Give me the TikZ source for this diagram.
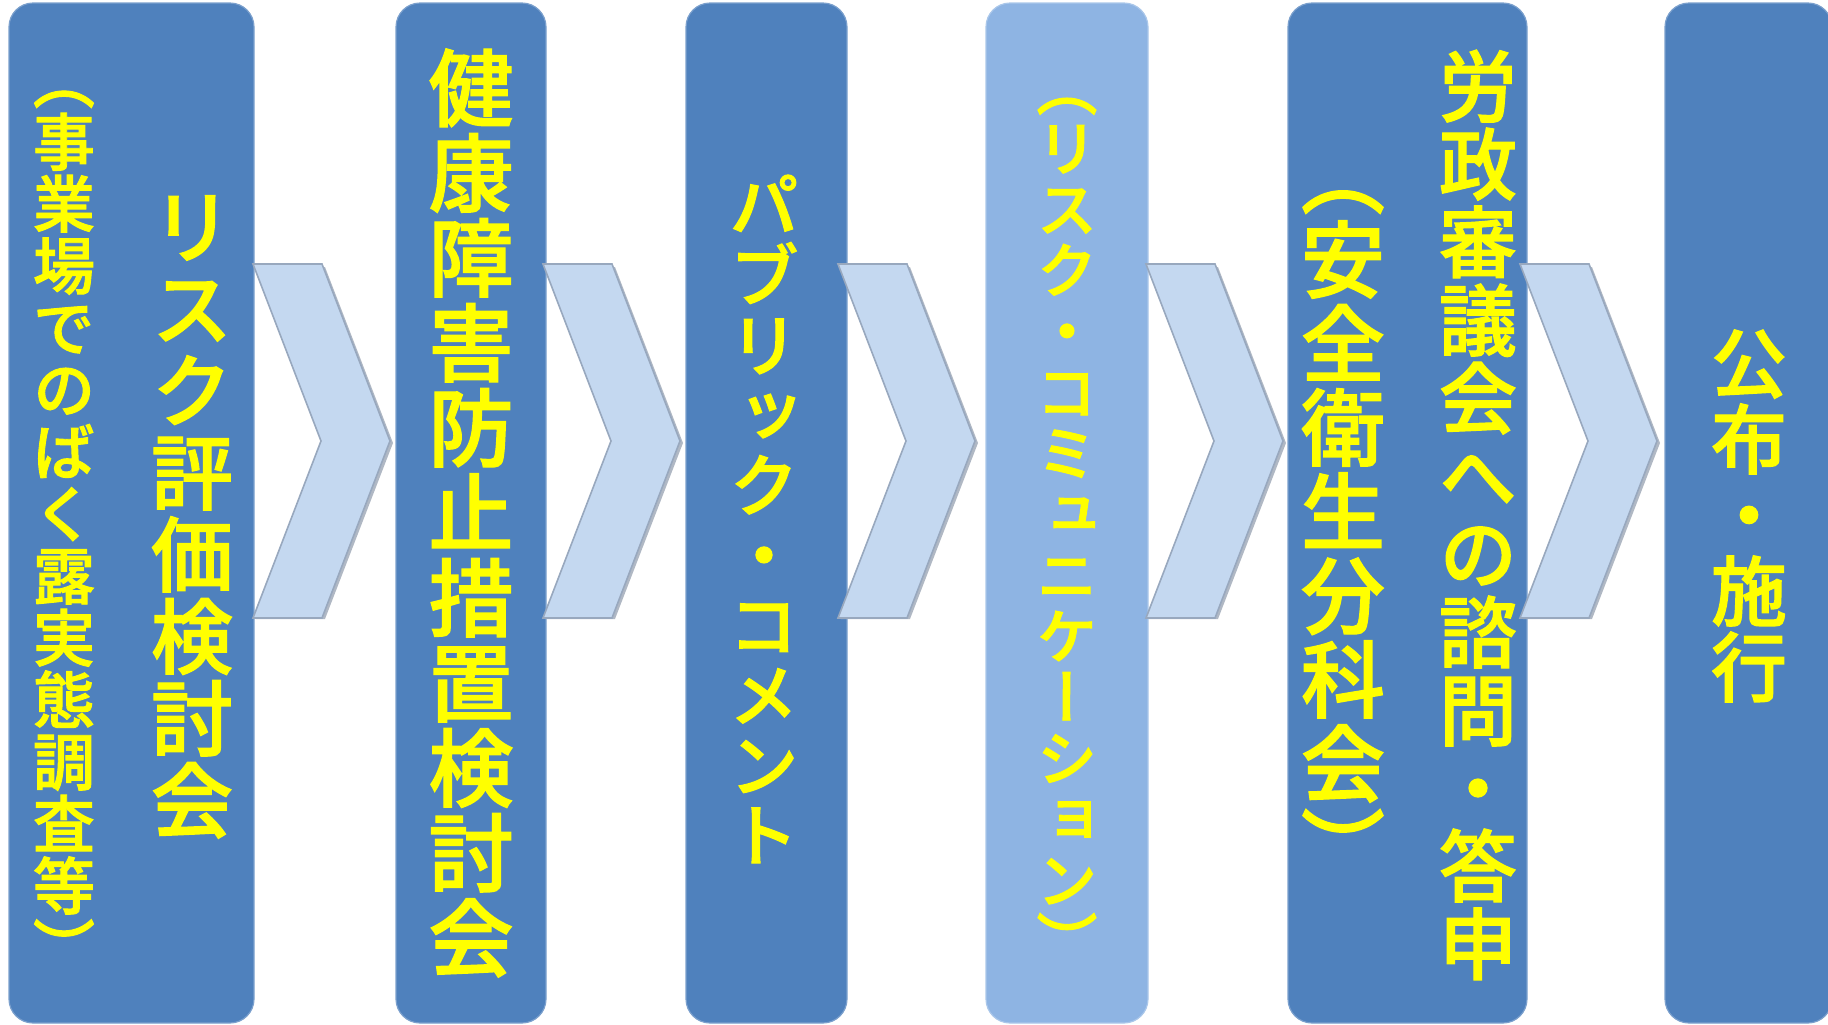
\documentclass[tikz,border=0pt]{standalone}
\usepackage{fontspec}
\newfontfamily\jpfont[RawFeature=+vert, FakeBold=1.5]{Noto Sans CJK JP Medium}
\usetikzlibrary{positioning}
\definecolor{colblue}{HTML}{4F81BD}
\definecolor{collight}{HTML}{8EB4E3}
\definecolor{chevfill}{HTML}{C4D8F0}
\definecolor{chevedge}{HTML}{98A8BE}
\definecolor{chevshadow}{HTML}{B0B8C4}
\definecolor{txtyellow}{HTML}{FFFF00}
% vertical text: one character per line
\makeatletter
\newcommand\tate[1]{\vbox{\baselineskip=1em\lineskiplimit=-100pt\lineskip=0pt%
  \@tfor\vch:=#1\do{\hbox to 1em{\hss\vch\hss}}}}
\makeatother
\tikzset{
    colblock/.style={rectangle, rounded corners=12pt, minimum height=510pt, inner sep=0pt, fill=colblue, draw=colblue!75!white, line width=0.6pt},
    tatetext/.style={text=txtyellow, inner sep=0pt, font=\jpfont\fontsize{#1}{#1}\selectfont},
    chevron/.style={fill=chevfill, draw=chevedge, line width=0.8pt, line join=miter},
    chevshade/.style={fill=chevshadow, draw=none}
}
\begin{document}
\begin{tikzpicture}[x=0.5pt, y=-0.5pt]
    \useasboundingbox (0,0) rectangle (1828,1024);
    % steps
    \node[colblock, minimum width=122.5pt] (risk) at (131.5,513) {};
    \node[colblock, minimum width=75pt] (kenko) at (471,513) {};
    \node[colblock, minimum width=80.5pt] (pubcom) at (766.5,513) {};
    \node[colblock, minimum width=81pt, fill=collight, draw=collight!75!white] (riskcom) at (1067,513) {};
    \node[colblock, minimum width=119.5pt] (roseishin) at (1407.5,513) {};
    \node[colblock, minimum width=83.5pt] (kofu) at (1748.5,513) {};
    % labels
    \node[tatetext=41pt] (riskmain) at (192,517) {\tate{リスク評価検討会}};
    \node[tatetext=31pt] (risksub) at (64,531) {\tate{（事業場でのばく露実態調査等）}};
    \node[tatetext=42.5pt] (kenkomain) at (kenko) {\tate{健康障害防止措置検討会}};
    \node[tatetext=35pt] (pubcommain) at (764,519) {\tate{パブリック・コメント}};
    \node[tatetext=30.5pt] (riskcommain) at (1067,531) {\tate{（リスク・コミュニケーション）}};
    \node[tatetext=39pt] (roseimain) at (1478,515) {\tate{労政審議会への諮問・答申}};
    \node[tatetext=42pt] (roseisub) at (1343,535) {\tate{（安全衛生分科会）}};
    \node[tatetext=38pt] (kofumain) at (1749,516) {\tate{公布・施行}};
    % chevrons between steps
    \foreach \cx in {253,543,838,1146,1520} {
        \fill[chevshade] (\cx+3,267) -- ++(69,0) -- ++(68,176) -- ++(-68,176) -- ++(-69,0) -- ++(68,-176) -- cycle;
        \draw[chevron] (\cx,264) -- ++(69,0) -- ++(68,177) -- ++(-68,177) -- ++(-69,0) -- ++(68,-177) -- cycle;
    }
\end{tikzpicture}
\end{document}
